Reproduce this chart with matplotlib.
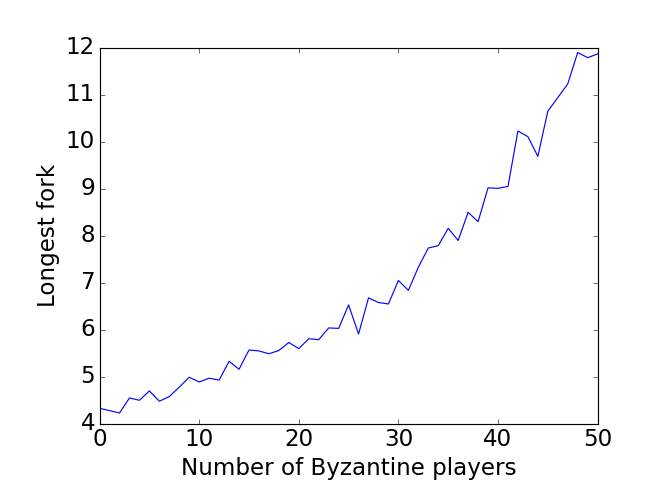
import matplotlib
matplotlib.use('Agg')
import matplotlib.pyplot as plt

# number of byzantine players vs longest fork
players = list(range(0, 51))
longest_fork = [4.33, 4.28, 4.23, 4.55, 4.50, 4.70, 4.48, 4.58, 4.78, 4.99,
                4.89, 4.97, 4.93, 5.33, 5.16, 5.57, 5.55, 5.49, 5.56, 5.73,
                5.60, 5.81, 5.79, 6.04, 6.03, 6.53, 5.91, 6.68, 6.58, 6.55,
                7.05, 6.84, 7.33, 7.74, 7.79, 8.16, 7.90, 8.50, 8.30, 9.02,
                9.01, 9.05, 10.23, 10.11, 9.69, 10.65, 10.94, 11.23, 11.90, 11.79,
                11.87]


def main():
    plt.style.use('classic')
    plt.rcParams['font.size'] = 20
    fig = plt.figure(figsize=(8, 6), dpi=83)
    fig.patch.set_facecolor('white')
    fig.subplots_adjust(left=0.15, right=0.9, bottom=0.149, top=0.904)
    plt.plot(players, longest_fork, 'b-')
    plt.xlabel('Number of Byzantine players')
    plt.ylabel('Longest fork')
    plt.savefig('out.png', dpi=83, facecolor='white')


main()
